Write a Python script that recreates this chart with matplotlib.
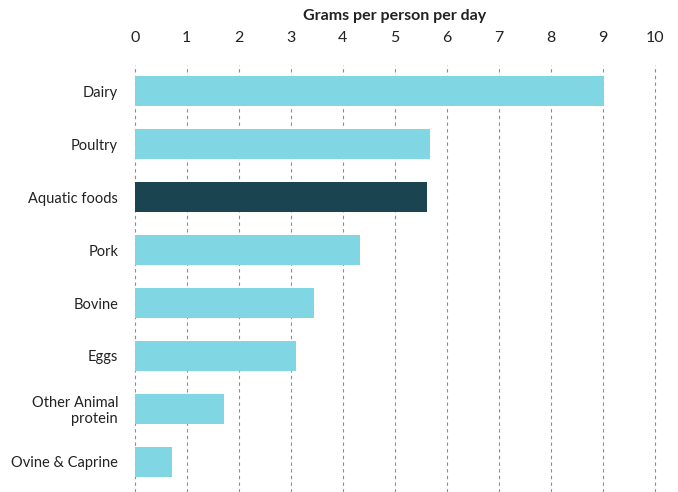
import matplotlib
matplotlib.use('Agg')
from matplotlib import pyplot as plt
import numpy as np

categories = ['Dairy', 'Poultry', 'Aquatic foods', 'Pork', 'Bovine', 'Eggs',
              'Other Animal\nprotein', 'Ovine & Caprine']
values = [9.03, 5.67, 5.63, 4.33, 3.44, 3.10, 1.72, 0.71]
highlight = 'Aquatic foods'
x_ticks = list(range(0, 11))

light = '#80d6e2'
dark = '#1b4451'
text_c = '#222222'

plt.rcParams['font.family'] = ['Lato', 'DejaVu Sans']

fig = plt.figure(figsize=(6.78, 4.92), dpi=100)
ax = fig.add_axes([0.1987, 0.0, 0.767, 0.868])

y = np.arange(len(categories))
colors = [dark if c == highlight else light for c in categories]
ax.barh(y, values, height=0.57, color=colors, zorder=2)

ax.set_xlim(0, 10)
ax.set_ylim(7.57, -0.5)
ax.set_yticks(y)
ax.set_yticklabels(categories, fontsize=10.5, color=text_c, linespacing=1.1)
ax.set_xticks(x_ticks)
ax.set_xticklabels([str(t) for t in x_ticks], fontsize=11.5, color=text_c)
ax.xaxis.tick_top()
ax.xaxis.set_label_position('top')
ax.set_xlabel('Grams per person per day', fontsize=11.5, fontweight='bold',
              color=text_c, labelpad=8)
ax.tick_params(axis='x', length=0, pad=14)
ax.tick_params(axis='y', length=0, pad=12)

ax.grid(axis='x', color='#8c8c8c', linestyle=(0, (3, 3)), linewidth=0.8, zorder=1)
ax.grid(axis='y', visible=False)
for line in ax.get_xgridlines():
    line.set_clip_on(False)
for s in ax.spines.values():
    s.set_visible(False)

plt.savefig('out.png', dpi=100)
